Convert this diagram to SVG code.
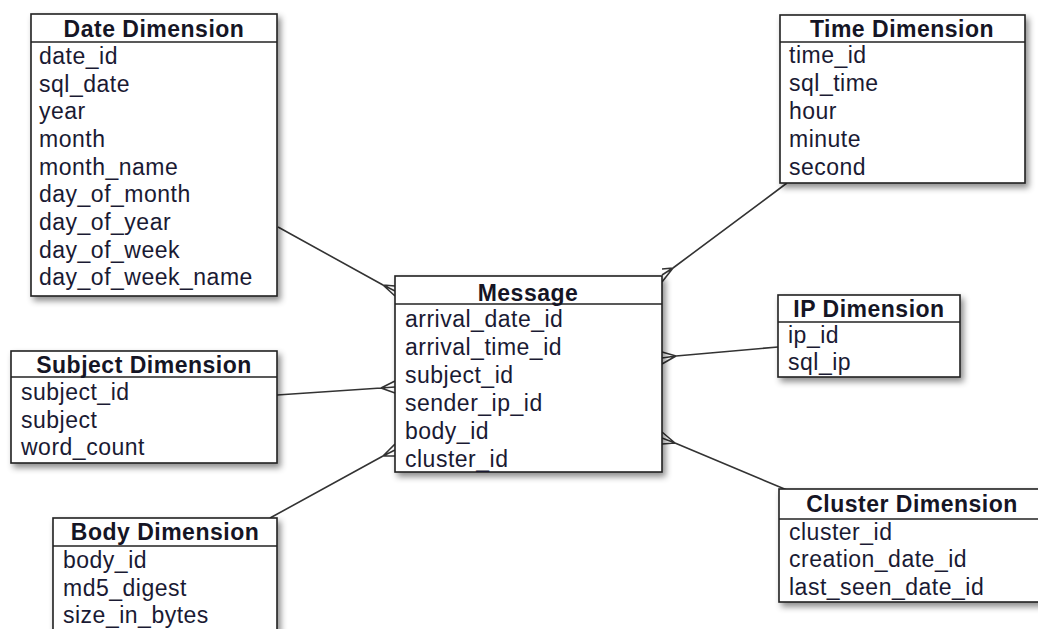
<svg xmlns="http://www.w3.org/2000/svg" width="1038" height="629" viewBox="0 0 1038 629">
<style>
.box{fill:#fff;stroke:#222;stroke-width:1.6;filter:url(#sh)}
.sep{stroke:#222;stroke-width:1.6}
.hd{font-family:"Liberation Sans",Arial,sans-serif;font-size:23px;font-weight:bold;fill:#151525;text-anchor:middle;letter-spacing:0.5px}
.fd{font-family:"Liberation Sans",Arial,sans-serif;font-size:23px;fill:#1a1a33;letter-spacing:0.5px}
.cn{fill:none;stroke:#333;stroke-width:1.6}
</style>
<defs>
<filter id="sh" x="-10%" y="-10%" width="130%" height="130%">
<feDropShadow dx="3" dy="4" stdDeviation="3" flood-color="#000" flood-opacity="0.45"/>
</filter>
</defs>
<rect width="1038" height="629" fill="#fff"/>
<g id="connectors">
<path class="cn" d="M278,227 L383,285 M383,285 L395,286 M383,285 L395,291 M383,285 L395,296"/>
<path class="cn" d="M787,183 L673,268 M673,268 L662,269 M673,268 L662,275 M673,268 L662,282"/>
<path class="cn" d="M778,347 L676,356 M676,356 L662,352 M676,356 L662,358 M676,356 L662,364"/>
<path class="cn" d="M787,490 L675,443 M675,443 L662,432 M675,443 L662,438 M675,443 L662,444"/>
<path class="cn" d="M277,395 L381,388 M381,388 L395,381 M381,388 L395,387 M381,388 L395,393"/>
<path class="cn" d="M270,518 L383,456 M383,456 L395,444 M383,456 L395,450 M383,456 L395,456"/>
</g>
<g id="date-dimension">
<rect class="box" x="31" y="14" width="246" height="282"/>
<line class="sep" x1="31" y1="42" x2="277" y2="42"/>
<text class="hd" x="154" y="37">Date Dimension</text>
<text class="fd" x="39" y="64">date_id</text>
<text class="fd" x="39" y="92">sql_date</text>
<text class="fd" x="39" y="119">year</text>
<text class="fd" x="39" y="147">month</text>
<text class="fd" x="39" y="175">month_name</text>
<text class="fd" x="39" y="202">day_of_month</text>
<text class="fd" x="39" y="230">day_of_year</text>
<text class="fd" x="39" y="258">day_of_week</text>
<text class="fd" x="39" y="285">day_of_week_name</text>
</g>
<g id="time-dimension">
<rect class="box" x="780" y="15" width="245" height="168"/>
<line class="sep" x1="780" y1="42" x2="1025" y2="42"/>
<text class="hd" x="902" y="37">Time Dimension</text>
<text class="fd" x="789" y="63">time_id</text>
<text class="fd" x="789" y="91">sql_time</text>
<text class="fd" x="789" y="119">hour</text>
<text class="fd" x="789" y="147">minute</text>
<text class="fd" x="789" y="175">second</text>
</g>
<g id="message">
<rect class="box" x="395" y="276" width="267" height="196"/>
<line class="sep" x1="395" y1="304" x2="662" y2="304"/>
<text class="hd" x="528" y="301">Message</text>
<text class="fd" x="405" y="327">arrival_date_id</text>
<text class="fd" x="405" y="355">arrival_time_id</text>
<text class="fd" x="405" y="383">subject_id</text>
<text class="fd" x="405" y="411">sender_ip_id</text>
<text class="fd" x="405" y="439">body_id</text>
<text class="fd" x="405" y="467">cluster_id</text>
</g>
<g id="ip-dimension">
<rect class="box" x="778" y="295" width="182" height="82"/>
<line class="sep" x1="778" y1="322" x2="960" y2="322"/>
<text class="hd" x="869" y="317">IP Dimension</text>
<text class="fd" x="788" y="343">ip_id</text>
<text class="fd" x="788" y="370">sql_ip</text>
</g>
<g id="cluster-dimension">
<rect class="box" x="779" y="489" width="266" height="113"/>
<line class="sep" x1="779" y1="519" x2="1045" y2="519"/>
<text class="hd" x="912" y="512">Cluster Dimension</text>
<text class="fd" x="789" y="540">cluster_id</text>
<text class="fd" x="789" y="567">creation_date_id</text>
<text class="fd" x="789" y="595">last_seen_date_id</text>
</g>
<g id="subject-dimension">
<rect class="box" x="11" y="351" width="266" height="112"/>
<line class="sep" x1="11" y1="377" x2="277" y2="377"/>
<text class="hd" x="144" y="373">Subject Dimension</text>
<text class="fd" x="21" y="400">subject_id</text>
<text class="fd" x="21" y="428">subject</text>
<text class="fd" x="21" y="455">word_count</text>
</g>
<g id="body-dimension">
<rect class="box" x="53" y="518" width="224" height="130"/>
<line class="sep" x1="53" y1="546" x2="277" y2="546"/>
<text class="hd" x="165" y="540">Body Dimension</text>
<text class="fd" x="63" y="568">body_id</text>
<text class="fd" x="63" y="596">md5_digest</text>
<text class="fd" x="63" y="623">size_in_bytes</text>
</g>
</svg>
